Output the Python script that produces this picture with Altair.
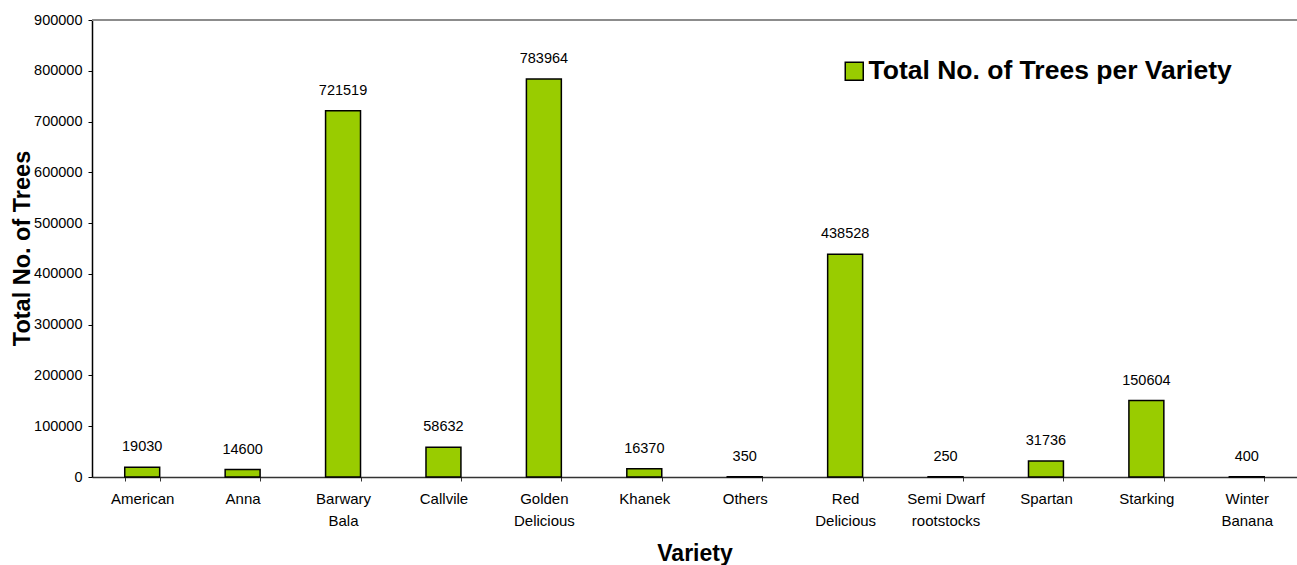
import altair as alt
import pandas as pd

# Apple varieties and their tree counts
varieties = [
    "American", "Anna", "Barwary Bala", "Callvile", "Golden Delicious", "Khanek",
    "Others", "Red Delicious", "Semi Dwarf rootstocks", "Spartan", "Starking",
    "Winter Banana",
]
tick_labels = [
    ["American"], ["Anna"], ["Barwary", "Bala"], ["Callvile"], ["Golden", "Delicious"],
    ["Khanek"], ["Others"], ["Red", "Delicious"], ["Semi Dwarf", "rootstocks"],
    ["Spartan"], ["Starking"], ["Winter", "Banana"],
]
trees = [19030, 14600, 721519, 58632, 783964, 16370, 350, 438528, 250, 31736, 150604, 400]
series_name = "Total No. of Trees per Variety"
y_max = 900000

df = pd.DataFrame({"Variety": varieties, "Trees": trees, "Series": series_name})

FONT = "Liberation Sans"
GREEN = "#99CC00"

# label expression that splits the long variety names onto two lines
label_map = {v: lbl for v, lbl in zip(varieties, tick_labels)}
label_expr = "{" + ",".join(
    f"'{v}': [" + ",".join(f"'{p}'" for p in lbl) + "]" for v, lbl in label_map.items()
) + "}[datum.value]"

x = alt.X(
    "Variety:N",
    sort=varieties,
    scale=alt.Scale(paddingInner=0.652, paddingOuter=0.326),
    axis=alt.Axis(
        title="Variety",
        titleFont=FONT,
        titleFontSize=23,
        titleFontWeight="bold",
        titleColor="black",
        titleBaseline="alphabetic",
        titleY=83,
        labelExpr=label_expr,
        labelFont=FONT,
        labelFontSize=15,
        labelColor="black",
        labelAngle=0,
        labelPadding=10,
        labelLineHeight=22,
        labelBaseline="top",
        tickColor="#333333",
        tickSize=4,
        tickBand="extent",
        domainColor="#333333",
        domainWidth=1.5,
        grid=False,
    ),
)

y = alt.Y(
    "Trees:Q",
    scale=alt.Scale(domain=[0, y_max], nice=False),
    axis=alt.Axis(
        title="Total No. of Trees",
        titleFont=FONT,
        titleFontSize=23.5,
        titleFontWeight="bold",
        titleColor="black",
        titleX=-70,
        titleY=228,
        titleBaseline="middle",
        titleAngle=270,
        values=list(range(0, y_max + 1, 100000)),
        format="d",
        labelFont=FONT,
        labelFontSize=14.5,
        labelColor="black",
        labelPadding=6,
        tickColor="black",
        tickSize=4,
        domainColor="black",
        domainWidth=1.5,
        grid=False,
    ),
)

bars = alt.Chart(df).mark_bar(stroke="black", strokeWidth=1.5).encode(
    x=x,
    y=y,
    fill=alt.Fill(
        "Series:N",
        scale=alt.Scale(range=[GREEN]),
        legend=alt.Legend(
            title=None,
            orient="none",
            legendX=749,
            legendY=38,
            padding=0,
            symbolType="square",
            symbolSize=324,
            symbolStrokeColor="black",
            symbolStrokeWidth=1.5,
            symbolOpacity=1,
            labelFont=FONT,
            labelFontSize=26.5,
            labelFontWeight="bold",
            labelColor="black",
            labelOffset=1,
            labelLimit=600,
        ),
    ),
)

values = alt.Chart(df).mark_text(
    font=FONT, fontSize=14.5, color="black", baseline="alphabetic", dy=-16
).encode(
    x=alt.X("Variety:N", sort=varieties),
    y="Trees:Q",
    text=alt.Text("Trees:Q", format="d"),
)

# thin grey border along the top of the plot area
top_border = alt.Chart(df).mark_rule(color="#8c8c8c", strokeWidth=1.5).encode(
    y=alt.datum(y_max)
)

chart = (
    alt.layer(bars, values, top_border)
    .properties(
        width=1205,
        height=457,
        autosize=alt.AutoSizeParams(type="none"),
        padding={"left": 92, "top": 20, "right": 0, "bottom": 88},
        background="white",
    )
    .configure_view(stroke=None)
)

chart.save("out.html", embed_options={"renderer": "svg", "actions": False})
